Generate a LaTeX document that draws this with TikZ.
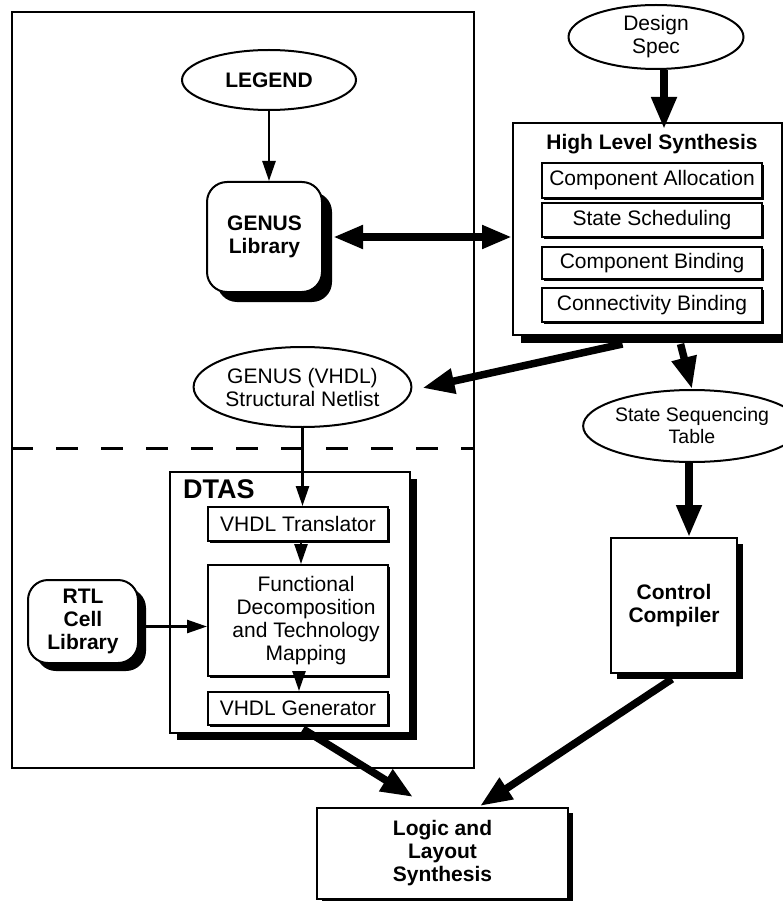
\documentclass[tikz,border=0pt]{standalone}
\usepackage{fontspec}
\setmainfont{Liberation Sans}
\usetikzlibrary{arrows.meta,shapes.geometric,shadows,calc}
\tikzset{
  txt/.style={font=\fontsize{21}{23}\selectfont, align=center},
  btxt/.style={font=\fontsize{21}{23}\selectfont\bfseries, align=center},
  bbox/.style={draw, line width=2pt, fill=white, inner sep=0pt, txt},
  shad/.style={drop shadow={shadow xshift=#1, shadow yshift=-#1, fill=black, opacity=1}},
  subbox/.style={bbox, minimum width=220pt, shad=2pt},
  dtbox/.style={bbox, minimum width=180pt, shad=2pt},
  oval/.style={ellipse, draw, line width=2pt, fill=white, inner sep=0pt, txt},
  frame/.style={draw, line width=2pt, inner sep=0pt},
  divider/.style={line width=3pt, dash pattern=on 22pt off 23pt},
  bigarrow/.style={line width=7.5pt, -{Triangle[length=32pt,width=24pt]}},
  bigboth/.style={line width=7.5pt, {Triangle[length=30pt,width=22pt]}-{Triangle[length=30pt,width=22pt]}},
  smallarrow/.style={line width=2.5pt, -{Triangle[length=20pt,width=13pt]}},
}
\begin{document}
\begin{tikzpicture}[x=1pt,y=-1pt]
\useasboundingbox (0,0) rectangle (783,901);
% left region
\node[frame, minimum width=462pt, minimum height=756pt] (region) at (243,390) {};
\coordinate (dl) at (0,448);
\draw[divider] (region.west |- dl) -- (region.east |- dl);

% left upper
\node[oval, btxt, minimum width=174pt, minimum height=60pt] (legend) at (269,80) {LEGEND};
\node[bbox, btxt, rounded corners=20pt, minimum width=115pt, minimum height=110pt, shad=10pt] (lib) at (264.5,237) {GENUS\\Library};
\node[oval, minimum width=195pt, minimum height=80pt] (gv) at (302.5,387) {GENUS (VHDL)\\Structural Netlist};

% right column
\node[oval, minimum width=175pt, minimum height=64pt] (ds) at (656,37) {Design\\Spec};
\node[bbox, minimum width=269pt, minimum height=212pt, shad=8pt] (hls) at (647.5,229) {};
\node[btxt, anchor=base, inner sep=0pt] (hlst) at (652,150) {High Level Synthesis};
\node[subbox, minimum height=35pt] (ca) at (652,180.5) {Component Allocation};
\node[subbox, minimum height=34pt] (ssch) at (652,220) {State Scheduling};
\node[subbox, minimum height=32pt] (cb) at (652,263) {Component Binding};
\node[subbox, minimum height=34pt] (cnb) at (652,305) {Connectivity Binding};
\node[oval, font=\fontsize{19.5}{22}\selectfont, minimum width=190pt, minimum height=72pt] (sst) at (692,426) {State Sequencing\\Table};
\node[bbox, btxt, minimum width=126pt, minimum height=135pt, shad=6pt] (cc) at (674,605.5) {Control\\Compiler};
\node[bbox, btxt, minimum width=251pt, minimum height=91pt, shad=5pt] (logic) at (442.5,853.5) {Logic and\\Layout\\Synthesis};

% DTAS
\node[bbox, minimum width=240pt, minimum height=261pt, shad=7pt] (dtas) at (290,602.5) {};
\node[font=\fontsize{27}{30}\selectfont\bfseries, anchor=base west, inner sep=0pt] (dtast) at (183,498) {DTAS};
\node[dtbox, minimum height=34pt] (trans) at (298,524) {VHDL Translator};
\node[dtbox, minimum height=111pt, label={[txt, xshift=8pt]center:{Functional\\Decomposition\\and Technology\\Mapping}}] (func) at (298,620.5) {};
\node[dtbox, minimum height=33pt] (gen) at (298,708.5) {VHDL Generator};
\node[bbox, btxt, rounded corners=20pt, minimum width=110pt, minimum height=83pt, shad=8pt] (rtl) at (83,621.5) {RTL\\Cell\\Library};

% connectors
\draw[smallarrow] (legend.south) -- (legend.south |- lib.north);
\draw[bigboth] ([xshift=10pt]lib.east) -- (lib.east -| hls.west);
\draw[bigarrow] ($(ds.south)+(8,0)$) -- ($(hls.north)+(16.5,7)$);
\draw[bigarrow] ($(hls.south)+(-25,8)$) -- ($(gv.east)+(10,1)$);
\draw[bigarrow] ($(hls.south)+(33,8)$) -- (sst.north);
\draw[smallarrow] (gv.south) -- (gv.south |- trans.north);
\draw[smallarrow] ([xshift=3pt]trans.south) -- ([xshift=3pt]func.north);
\draw[smallarrow] ([xshift=1pt]func.south) -- ([xshift=1pt]gen.north);
\draw[smallarrow] ($(rtl.east)+(0,5)$) coordinate (r1) -- (r1 -| func.west);
\draw[bigarrow] ($(sst.south)+(-3,0)$) coordinate (s1) -- (s1 |- cc.north);
\draw[bigarrow] ($(cc.south)+(-2,5)$) -- ($(logic.north)+(37.5,-1)$);
\draw[bigarrow] ($(gen.south)+(5,3)$) -- ($(logic.north)+(-29.5,-10)$);
\end{tikzpicture}
\end{document}
